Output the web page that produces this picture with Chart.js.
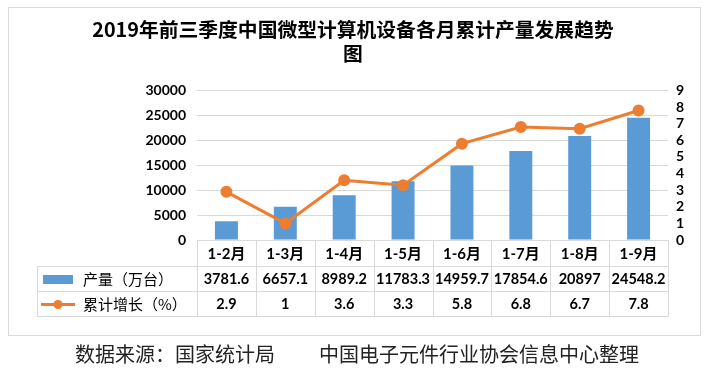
<!DOCTYPE html>
<html>
<head>
<meta charset="utf-8">
<script src="https://cdn.jsdelivr.net/npm/chart.js@4/dist/chart.umd.min.js"></script>
<style>
  html, body { margin: 0; padding: 0; background: #fff; }
  #wrap { position: relative; width: 710px; height: 374px; }
  #c { position: absolute; left: 0; top: 0; }
  #source { position: absolute; left: 75px; top: 344px; font: 20px/20px "Noto Sans CJK SC", sans-serif; color: #222; white-space: nowrap; }
  #source span + span { margin-left: 44px; }
</style>
</head>
<body>
<div id="wrap">
  <canvas id="c" width="710" height="374"></canvas>
  <div id="source"><span>数据来源：国家统计局</span><span>中国电子元件行业协会信息中心整理</span></div>
</div>
<script>
const titleLines = ['2019年前三季度中国微型计算机设备各月累计产量发展趋势', '图'];
const categories = ['1-2月', '1-3月', '1-4月', '1-5月', '1-6月', '1-7月', '1-8月', '1-9月'];
const productionLabel = '产量（万台）';
const growthLabel = '累计增长（%）';
const production = [3781.6, 6657.1, 8989.2, 11783.3, 14959.7, 17854.6, 20897, 24548.2];
const growth = [2.9, 1, 3.6, 3.3, 5.8, 6.8, 6.7, 7.8];
const leftTicks = [0, 5000, 10000, 15000, 20000, 25000, 30000];
const rightTicks = [0, 1, 2, 3, 4, 5, 6, 7, 8, 9];

const BLUE = '#5B9BD5';
const ORANGE = '#ED7D31';
const GRID = '#d9d9d9';
const NUMFONT = 'Lato, "Noto Sans CJK SC", sans-serif';

const framePlugin = {
  id: 'frame',
  beforeDraw(chart) {
    const ctx = chart.ctx;
    ctx.save();
    ctx.fillStyle = '#fff';
    ctx.fillRect(0, 0, chart.width, chart.height);
    ctx.strokeStyle = GRID;
    ctx.lineWidth = 1;
    ctx.strokeRect(8.5, 7.5, 692, 328);
    ctx.restore();
  }
};

const tablePlugin = {
  id: 'dataTable',
  afterDraw(chart) {
    const ctx = chart.ctx;
    const x = chart.scales.x;
    const area = chart.chartArea;
    const n = categories.length;
    const cw = (area.right - area.left) / n;
    const top = Math.round(area.bottom);
    const r1 = top + 26, r2 = r1 + 25, r3 = r2 + 25;
    const tableLeft = 37;
    ctx.save();
    ctx.strokeStyle = GRID;
    ctx.lineWidth = 1;
    ctx.beginPath();
    [r1, r2, r3].forEach(y => { ctx.moveTo(tableLeft, y + 0.5); ctx.lineTo(area.right, y + 0.5); });
    for (let i = 0; i <= n; i++) {
      const bx = Math.round(area.left + i * cw) + 0.5;
      ctx.moveTo(bx, top); ctx.lineTo(bx, r3 + 0.5);
    }
    ctx.moveTo(tableLeft + 0.5, r1); ctx.lineTo(tableLeft + 0.5, r3 + 0.5);
    ctx.stroke();

    ctx.fillStyle = '#000';
    ctx.textAlign = 'center';
    ctx.textBaseline = 'middle';
    for (let i = 0; i < n; i++) {
      const cx = x.getPixelForValue(i);
      ctx.font = 'bold 15px ' + NUMFONT;
      ctx.fillText(categories[i], cx, (top + r1) / 2 + 1);
      ctx.font = 'bold 14.5px ' + NUMFONT;
      ctx.fillText(String(production[i]), cx, (r1 + r2) / 2 + 1);
      ctx.fillText(String(growth[i]), cx, (r2 + r3) / 2 + 1);
    }
    const y2 = (r1 + r2) / 2 + 1, y3 = (r2 + r3) / 2 + 1;
    ctx.fillStyle = BLUE;
    ctx.fillRect(43, y2 - 4.5, 30, 9);
    ctx.strokeStyle = ORANGE;
    ctx.lineWidth = 3;
    ctx.beginPath();
    ctx.moveTo(41, y3); ctx.lineTo(75, y3);
    ctx.stroke();
    ctx.fillStyle = ORANGE;
    ctx.beginPath();
    ctx.arc(58, y3, 4.5, 0, Math.PI * 2);
    ctx.fill();
    ctx.fillStyle = '#000';
    ctx.textAlign = 'left';
    ctx.font = '15px "Noto Sans CJK SC", sans-serif';
    ctx.fillText(productionLabel, 83, y2);
    ctx.fillText(growthLabel, 83, y3);
    ctx.restore();
  }
};

new Chart(document.getElementById('c'), {
  type: 'bar',
  data: {
    labels: categories,
    datasets: [
      {
        type: 'line',
        label: growthLabel,
        data: growth,
        yAxisID: 'y1',
        borderColor: ORANGE,
        backgroundColor: ORANGE,
        borderWidth: 3,
        pointRadius: 4.5,
        pointBackgroundColor: ORANGE,
        pointBorderColor: ORANGE,
        tension: 0,
        order: 0
      },
      {
        type: 'bar',
        label: productionLabel,
        data: production,
        yAxisID: 'y',
        backgroundColor: BLUE,
        categoryPercentage: 1,
        barPercentage: 0.39,
        order: 1
      }
    ]
  },
  options: {
    responsive: false,
    animation: false,
    layout: { padding: { left: 8, right: 12, top: 0, bottom: 134 } },
    plugins: {
      legend: { display: false },
      tooltip: { enabled: false },
      title: {
        display: true,
        text: titleLines,
        color: '#000',
        font: { family: '"Noto Sans CJK SC", sans-serif', size: 19.8, weight: 'bold', lineHeight: 1.2 },
        padding: { top: 18, bottom: 25 }
      }
    },
    scales: {
      x: { display: false, offset: true },
      y: {
        position: 'left',
        min: 0, max: 30000,
        afterBuildTicks(s) { s.ticks = leftTicks.map(v => ({ value: v })); },
        afterFit(s) { s.width = 189; },
        ticks: { padding: 11, autoSkip: false, color: '#000', callback: v => String(v), font: { family: NUMFONT, size: 14, weight: 'bold' } },
        grid: { color: GRID, drawTicks: false, lineWidth: 1 },
        border: { display: false }
      },
      y1: {
        position: 'right',
        min: 0, max: 9,
        afterBuildTicks(s) { s.ticks = rightTicks.map(v => ({ value: v })); },
        afterFit(s) { s.width = 30; },
        ticks: { padding: 8, autoSkip: false, color: '#000', callback: v => String(v), font: { family: NUMFONT, size: 14, weight: 'bold' } },
        grid: { display: false, drawTicks: false },
        border: { display: false }
      }
    }
  },
  plugins: [framePlugin, tablePlugin]
});
</script>
</body>
</html>
